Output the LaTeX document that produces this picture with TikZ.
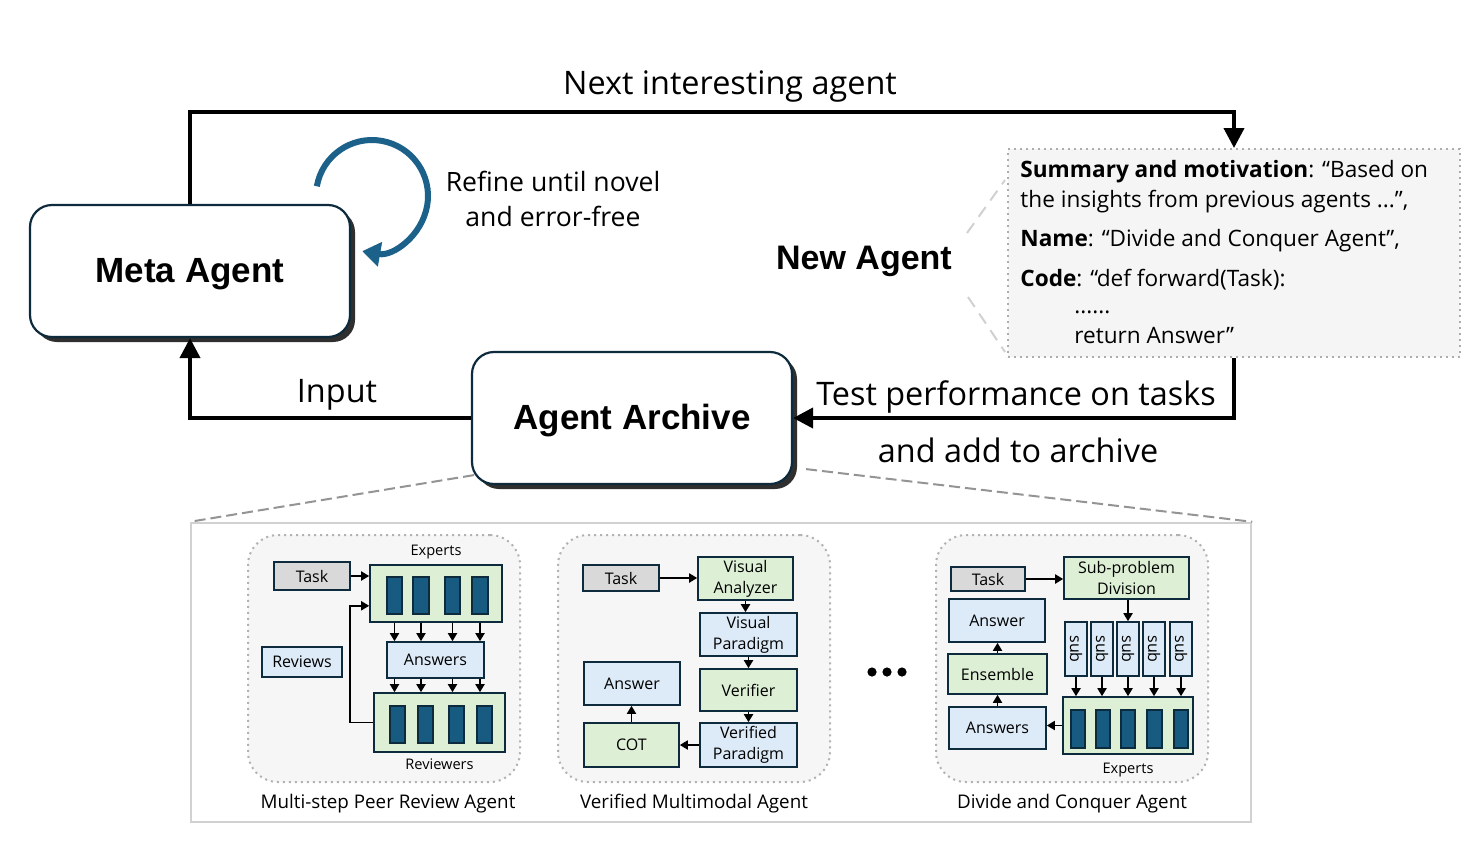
\documentclass[tikz,border=0pt]{standalone}
\usepackage{fontspec}
\setmainfont{Open Sans}
\newfontfamily\headfont{Liberation Sans}
\usetikzlibrary{arrows.meta,shadows,fit,positioning}

\definecolor{navy}{HTML}{0E2B3D}
\definecolor{barblue}{HTML}{175C80}
\definecolor{boxgreen}{HTML}{DDF0D5}
\definecolor{boxblue}{HTML}{DDEAF7}
\definecolor{taskgray}{HTML}{D9D9D9}
\definecolor{arcblue}{HTML}{1B6189}
\definecolor{panelfill}{HTML}{F6F6F6}
\definecolor{notefill}{HTML}{F5F5F5}

\tikzset{
  agentbox/.style={draw=navy, line width=1.1pt, fill=white, rounded corners=11pt, inner sep=0pt,
    drop shadow={shadow xshift=2.5pt, shadow yshift=-2.5pt, fill=black!90, opacity=0.9}},
  headtext/.style={label={[yshift=-1.5pt, font=\headfont\bfseries\fontsize{17.5}{21}\selectfont]center:#1}},
  flow/.style={line width=2pt, -{Triangle[length=10pt,width=10pt]}},
  biglabel/.style={font=\fontsize{16.2}{19}\selectfont},
  notetext/.style={anchor=base west, inner sep=0pt, font=\fontsize{11.3}{13}\selectfont},
  callout/.style={black!18, line width=1pt, dash pattern=on 6pt off 4pt},
  zoomline/.style={black!42, line width=1pt, dash pattern=on 5.5pt off 2.5pt},
  blk/.style={draw=navy, line width=0.8pt, inner sep=0pt},
  txt/.style={label={[align=center, inner sep=0pt, font=\fontsize{8}{10.5}\selectfont]center:#1}},
  taskblk/.style={blk, fill=taskgray},
  greenblk/.style={blk, fill=boxgreen},
  blueblk/.style={blk, fill=boxblue},
  bar/.style={draw=navy, line width=0.6pt, fill=barblue, inner sep=0pt},
  link/.style={line width=0.9pt, -{Triangle[length=4pt,width=4.5pt]}},
  panel/.style={draw=black!30, line width=1pt, dotted, fill=panelfill, rounded corners=15pt, inner sep=0pt},
  tag/.style={font=\fontsize{7.3}{9}\selectfont, inner sep=0pt},
  caption/.style={font=\fontsize{9.4}{11}\selectfont, inner sep=0pt},
}

\begin{document}
\begin{tikzpicture}[x=0.5pt,y=-0.5pt]
  \useasboundingbox (0,0) rectangle (1481,841);
  \fill[white] (0,0) rectangle (1481,841);

  % main loop
  \node[agentbox, fit={(30,205) (350,337)}, headtext={Meta Agent}] (meta) {};
  \node[agentbox, fit={(472,352) (792,484)}, headtext={Agent Archive}] (archive) {};
  \node[font=\headfont\bfseries\fontsize{17}{20}\selectfont] (newagent) at (864,261) {New Agent};
  \node[fill=notefill, draw=black!32, dotted, line width=1pt, inner sep=0pt, fit={(1008,149) (1460,357)}] (note) {};

  \node[notetext] (sumline) at (1020,177) {\textbf{Summary and motivation}: “Based on};
  \node[notetext] (insline) at (1020,207) {the insights from previous agents ...”,};
  \node[notetext] (nameline) at (1020,246) {\textbf{Name}: “Divide and Conquer Agent”,};
  \node[notetext] (codeline) at (1020,286) {\textbf{Code}: “def forward(Task):};
  \node[notetext] (dotsline) at (1074,313) {......};
  \node[notetext] (retline) at (1074,343) {return Answer”};

  \coordinate (calloutA) at (967,233);
  \coordinate (calloutB) at (968,297);
  \draw[callout] (calloutA) -- (1005,180);
  \draw[callout] (calloutB) -- (1005,352);

  \draw[flow] (meta.north) -- ++(0,-92) -| (note.north);
  \draw[flow] (archive.west) -| (meta.south);
  \draw[flow] (note.south) |- (archive.east);

  \node[biglabel] (nextlbl) at (730,86) {Next interesting agent};
  \node[biglabel] (inputlbl) at (337,395) {Input};
  \node[biglabel] (testlbl) at (1016,397) {Test performance on tasks};
  \node[biglabel] (addlbl) at (1018,450) {and add to archive};
  \node[font=\fontsize{13.3}{17.5}\selectfont, align=center] (refinelbl) at (553,199) {Refine until novel\\and error-free};

  \draw[arcblue, line width=3pt, -{Triangle[length=9pt,width=12pt]}] (372,196) ++(190:56) arc[start angle=190, end angle=460, radius=56];

  % archive gallery
  \node[draw=black!18, line width=1.2pt, fill=white, inner sep=0pt, fit={(191,523) (1251,822)}] (gallery) {};
  \draw[zoomline] ([xshift=1.5pt,yshift=5pt]archive.south west) -- (gallery.north west);
  \draw[zoomline] ([xshift=6.5pt,yshift=8pt]archive.south east) -- (gallery.north east);

  \node[panel, fit={(248,535) (520,782)}] (peerpanel) {};
  \node[panel, fit={(558,535) (830,782)}] (multipanel) {};
  \node[panel, fit={(936,535) (1208,782)}] (dividepanel) {};

  \node[caption] (peercap) at (388,804) {Multi-step Peer Review Agent};
  \node[caption] (multicap) at (694,804) {Verified Multimodal Agent};
  \node[caption] (dividecap) at (1072,804) {Divide and Conquer Agent};

  \foreach \x in {872,887,902}
    \fill (\x,672) circle[radius=2.3pt];

  % peer review agent
  \node[taskblk, fit={(274,562) (350,590)}, txt=Task] (task1) {};
  \node[greenblk, fit={(370,565) (502,622)}] (experts1) {};
  \node[tag, above=2.5pt of experts1] (expertstag1) {Experts};
  \foreach \i/\xa/\xb in {1/387/402,2/413/429,3/445/460,4/472/488}
    \node[bar, fit={(\xa,577) (\xb,614)}] (eb\i) {};
  \node[blueblk, fit={(387,642) (484,678)}, txt=Answers] (answers1) {};
  \node[greenblk, fit={(374,693) (505,752)}] (reviewers1) {};
  \foreach \i/\xa/\xb in {1/390/405,2/418/433,3/449/464,4/477/492}
    \node[bar, fit={(\xa,706) (\xb,743)}] (rb\i) {};
  \node[tag, below=3pt of reviewers1] (reviewerstag1) {Reviewers};
  \node[blueblk, fit={(262,647) (342,677)}, txt=Reviews] (reviews1) {};

  \draw[link] (task1.east) -- (task1.east -| experts1.west);
  \foreach \i in {1,...,4} {
    \draw[link] (eb\i |- experts1.south) -- (eb\i |- answers1.north);
    \draw[link] (eb\i |- answers1.south) -- (eb\i |- reviewers1.north);
  }
  \draw[link] (reviewers1.west) -- ++(-23,0) |- ([yshift=8.5pt]experts1.south west);

  % verified multimodal agent
  \node[taskblk, fit={(583,565) (659,591)}, txt=Task] (task2) {};
  \node[greenblk, fit={(698,557) (793,600)}, txt={Visual\\Analyzer}] (analyzer) {};
  \node[blueblk, fit={(700,613) (797,656)}, txt={Visual\\Paradigm}] (vparadigm) {};
  \node[greenblk, fit={(700,669) (797,711)}, txt=Verifier] (verifier) {};
  \node[blueblk, fit={(700,723) (797,767)}, txt={Verified\\Paradigm}] (vdparadigm) {};
  \node[greenblk, fit={(584,723) (679,767)}, txt=COT] (cot) {};
  \node[blueblk, fit={(584,662) (680,705)}, txt=Answer] (answer2) {};

  \draw[link] (task2.east) -- (task2.east -| analyzer.west);
  \draw[link] (analyzer.south) -- (analyzer.south |- vparadigm.north);
  \draw[link] (vparadigm.south) -- (verifier.north);
  \draw[link] (verifier.south) -- (vdparadigm.north);
  \draw[link] (vdparadigm.west) -- (cot.east);
  \draw[link] (cot.north) -- (cot.north |- answer2.south);

  % divide and conquer agent
  \node[taskblk, fit={(951,567) (1025,591)}, txt=Task] (task3) {};
  \node[greenblk, fit={(1064,557) (1189,599)}, txt={Sub-problem\\Division}] (division) {};
  \foreach \i/\xa/\xb in {1/1065/1087,2/1091/1113,3/1117/1139,4/1143/1165,5/1170/1192} {
    \node[blueblk, fit={(\xa,622) (\xb,676)}] (sub\i) {};
    \node[rotate=-90, inner sep=0pt, font=\fontsize{8}{10}\selectfont] (subtxt\i) at (sub\i) {sub};
  }
  \node[greenblk, fit={(1063,697) (1193,754)}] (experts3) {};
  \foreach \i/\xa/\xb in {1/1071/1085,2/1096/1110,3/1121/1135,4/1147/1162,5/1174/1188}
    \node[bar, fit={(\xa,710) (\xb,748)}] (xb\i) {};
  \node[tag, below=4pt of experts3] (expertstag3) {Experts};
  \node[blueblk, fit={(949,707) (1046,749)}, txt=Answers] (answers3) {};
  \node[greenblk, fit={(948,654) (1047,694)}, txt=Ensemble] (ensemble) {};
  \node[blueblk, fit={(949,599) (1045,642)}, txt=Answer] (answer3) {};

  \draw[link] (task3.east) -- (task3.east -| division.west);
  \draw[link] (division.south -| sub3) -- (sub3.north);
  \foreach \i in {1,...,5}
    \draw[link] (sub\i.south) -- (sub\i.south |- experts3.north);
  \draw[link] (experts3.west) -- (experts3.west -| answers3.east);
  \draw[link] (answers3.north) -- (answers3.north |- ensemble.south);
  \draw[link] (ensemble.north) -- (ensemble.north |- answer3.south);
\end{tikzpicture}
\end{document}
